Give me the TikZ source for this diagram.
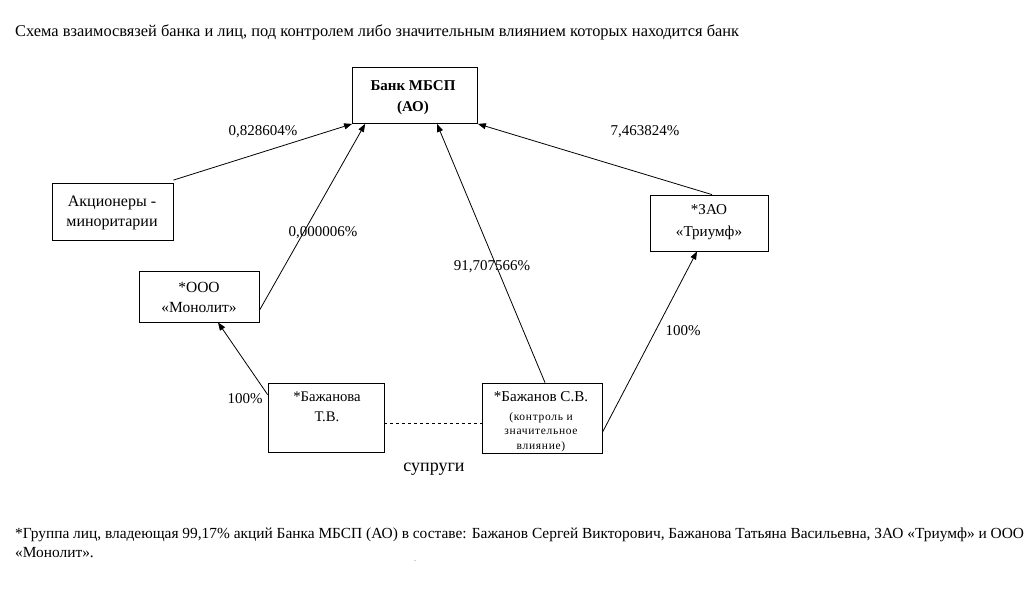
\documentclass[tikz,border=0pt]{standalone}
\usepackage{fontspec}
\setmainfont{Liberation Serif}
\usetikzlibrary{arrows.meta,calc}
\begin{document}
\begin{tikzpicture}[x=1pt,y=-1pt,
  box/.style={draw,line width=0.8pt,inner sep=0pt},
  lbl/.style={inner sep=0pt,font=\fontsize{15}{17}\selectfont},
  btxt/.style={inner sep=0pt,align=center},
  conn/.style={line width=0.8pt,-{Triangle[length=8pt,width=6pt]}}]
\useasboundingbox (0,0) rectangle (1030,592);
\node[anchor=base west,inner sep=0pt,font=\fontsize{16.4}{18}\selectfont] (title) at (15,36) {Схема взаимосвязей банка и лиц, под контролем либо значительным влиянием которых находится банк};
% boxes
\node[box,minimum width=125pt,minimum height=56pt] (bank) at (415,95.5) {};
\node[box,minimum width=121pt,minimum height=57pt] (aksh) at (112.5,212) {};
\node[box,minimum width=120pt,minimum height=51pt] (mono) at (199,296.5) {};
\node[box,minimum width=116pt,minimum height=69pt] (bazha) at (326,417.5) {};
\node[box,minimum width=120pt,minimum height=70pt] (bazh) at (542,418) {};
\node[box,minimum width=118pt,minimum height=56pt] (tri) at (709,223) {};
% box texts
\node[btxt,font=\bfseries\fontsize{15}{21}\selectfont] (bankt) at (413,97.5) {Банк МБСП\\(АО)};
\node[btxt,font=\fontsize{16}{20}\selectfont] (aksht) at (112,213) {Акционеры -\\миноритарии};
\node[btxt,font=\fontsize{15.5}{20}\selectfont] (monot) at (199,297) {*ООО\\«Монолит»};
\node[btxt,font=\fontsize{14.7}{20}\selectfont] (bazhat) at (327,407) {*Бажанова\\Т.В.};
\node[btxt,font=\fontsize{15.1}{20}\selectfont] (bazht1) at (541,397) {*Бажанов С.В.};
\node[btxt,font=\fontsize{11.5}{14.5}\selectfont\addfontfeature{LetterSpace=6}] (bazht2) at (541,432) {(контроль и\\значительное\\влияние)};
\node[btxt,font=\fontsize{15.1}{21.5}\selectfont] (trit) at (709,222) {*ЗАО\\«Триумф»};
% connectors
\draw[conn] ($(aksh.north east)+(0,-3)$) -- (bank.south west);
\draw[conn] ($(mono.south east)+(0,-12)$) -- ($(bank.south west)+(13,0)$);
\draw[conn] ($(bazha.north west)+(0,12)$) -- ($(mono.south)+(19,0)$);
\draw[conn] ($(bazh.north)+(3,0)$) -- ($(bank.south)+(22,0)$);
\draw[conn] ($(bazh.south east)+(0,-21)$) -- ($(tri.south)+(-12,0)$);
\draw[conn] ($(tri.north)+(3,0)$) -- (bank.south east);
\draw[line width=0.8pt,dashed] (bazha.east |- 0,423) coordinate (d1) -- (bazh.west |- 0,423) coordinate (d2);
% labels
\node[lbl] (l1) at (263,132) {0,828604\%};
\node[lbl] (l2) at (323,233) {0,000006\%};
\node[lbl] (l3) at (245,399) {100\%};
\node[lbl] (l4) at (492,267) {91,707566\%};
\node[lbl] (l5) at (683,331) {100\%};
\node[lbl] (l6) at (645,132) {7,463824\%};
\node[lbl,font=\fontsize{18}{20}\selectfont] (sp) at (434,469) {супруги};
% footnote
\node[anchor=base west,inner sep=0pt,align=left,font=\fontsize{15.4}{19}\selectfont] (foot) at (15,557) {*Группа лиц, владеющая 99,17\% акций Банка МБСП (АО) в составе: Бажанов Сергей Викторович, Бажанова Татьяна Васильевна, ЗАО «Триумф» и ООО\\«Монолит».};
\node[inner sep=0pt,font=\fontsize{6}{7}\selectfont] (dot) at (415,561) {.};
\end{tikzpicture}
\end{document}
